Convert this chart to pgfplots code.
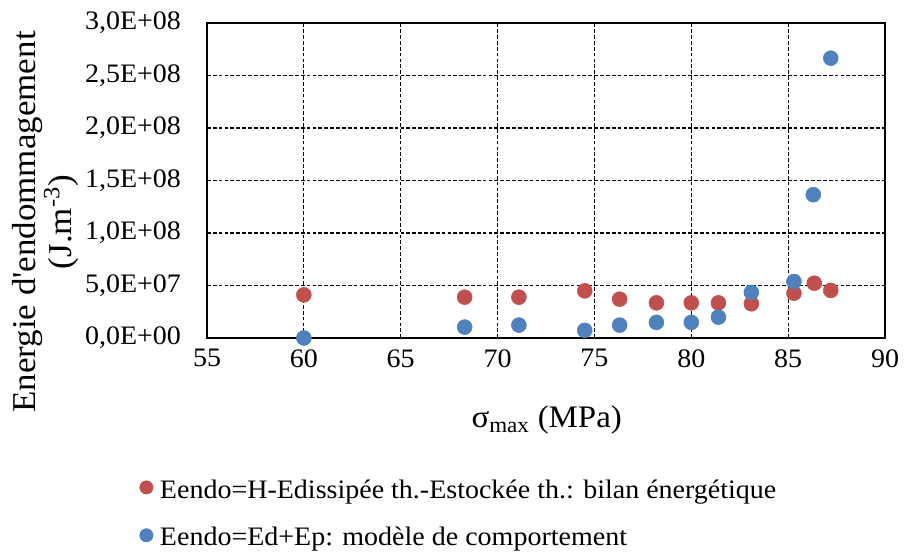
\documentclass[border=0pt]{standalone}
\usepackage{pgfplots}
\pgfplotsset{compat=1.18}
\usepackage{fontspec}
\setmainfont{Liberation Serif}[FakeStretch=1.05]
\definecolor{cred}{HTML}{C0504D}
\definecolor{cblue}{HTML}{4F81BD}
\begin{document}
\begin{tikzpicture}
\useasboundingbox (0,0) rectangle (679.5pt,-415.5pt);
\begin{axis}[
  at={(155.25pt,-253.5pt)}, anchor=south west,
  width=508.5pt, height=236.25pt, scale only axis,
  xmin=55, xmax=90, ymin=0, ymax=3e8,
  xtick={55,60,...,90},
  ytick={0,5e7,1e8,1.5e8,2e8,2.5e8,3e8},
  yticklabels={{0,0E+00},{5,0E+07},{1,0E+08},{1,5E+08},{2,0E+08},{2,5E+08},{3,0E+08}},
  scaled y ticks=false,
  major tick length=0pt,
  grid=major,
  major grid style={black, line width=0.85pt, dash pattern=on 2.8pt off 1.6pt},
  axis line style={black, line width=1.2pt},
  tick label style={font=\fontsize{20}{22}\selectfont},
  /pgf/number format/assume math mode=true,
  yticklabel style={xshift=-16pt},
  xticklabel style={yshift=-5pt},
  ylabel={Energie d\textquotesingle endommagement\\(J.m\textsuperscript{-3})},
  ylabel style={at={(axis description cs:-0.238,0.368)}, anchor=center, align=center, font=\fontsize{25}{26.5}\selectfont},
  xlabel={σ\textsubscript{max} (MPa)},
  xlabel style={at={(axis description cs:0.501,-0.26)}, anchor=center, font=\fontsize{23.5}{25}\selectfont},
  clip=false,
  legend cell align=left,
  legend style={at={(axis description cs:-0.1,-0.44)}, anchor=north west, draw=none, fill=none,
    font=\fontsize{20}{22}\selectfont, row sep=16.5pt, column sep=3pt, inner sep=0pt},
]
\addplot[only marks, mark=*, mark size=5.6pt, color=cred,
  legend image code/.code={\fill[cred] (0pt,1.8pt) circle (5pt);}]
  coordinates {
  (60.0,4.11e7) (68.3,3.89e7) (71.1,3.89e7) (74.5,4.49e7) (76.3,3.70e7)
  (78.2,3.35e7) (80.0,3.35e7) (81.4,3.35e7) (83.1,3.26e7) (85.3,4.27e7)
  (86.35,5.22e7) (87.2,4.53e7)
  };
\addlegendentry{Eendo=H-Edissipée th.-Estockée th.: bilan énergétique}
\addplot[only marks, mark=*, mark size=5.6pt, color=cblue,
  legend image code/.code={\fill[cblue] (0pt,1.8pt) circle (5pt);}]
  coordinates {
  (60.0,0) (68.3,1.04e7) (71.1,1.23e7) (74.5,0.73e7) (76.3,1.23e7)
  (78.2,1.49e7) (80.0,1.49e7) (81.4,1.99e7) (83.1,4.34e7) (85.3,5.38e7)
  (86.3,1.365e8) (87.2,2.665e8)
  };
\addlegendentry{Eendo=Ed+Ep: modèle de comportement}
\end{axis}
\end{tikzpicture}
\end{document}
